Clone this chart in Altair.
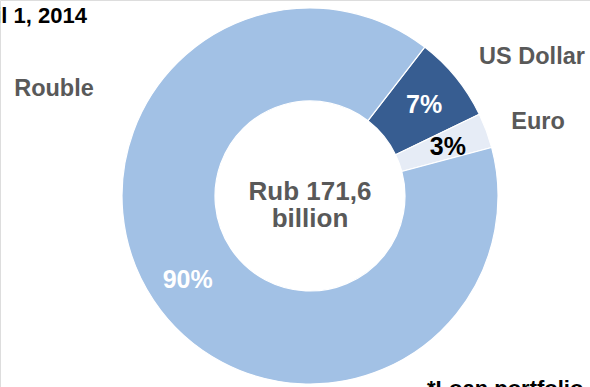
import math
import altair as alt
import pandas as pd

currencies = ["US Dollar", "Euro", "Rouble"]
shares = [7.4, 3.0, 89.6]
pct_labels = ["7%", "3%", "90%"]
order = [0, 1, 2]

df = pd.DataFrame({"currency": currencies, "share": shares, "label": pct_labels, "order": order})

CX, CY = 310, 196
START = math.radians(37.6)
theta_scale = alt.Scale(range=[START, START + 2 * math.pi])
fill_scale = alt.Scale(domain=currencies, range=["#375D91", "#E6ECF6", "#A2C1E5"])
text_scale = alt.Scale(domain=currencies, range=["#FFFFFF", "#000000", "#FFFFFF"])

base = alt.Chart(df)

arcs = base.mark_arc(outerRadius=188, innerRadius=95, stroke="white", strokeWidth=1.2).encode(
    theta=alt.Theta("share:Q", stack=True, scale=theta_scale),
    color=alt.Color("currency:N", scale=fill_scale, legend=None),
    order=alt.Order("order:Q"),
    x=alt.value(CX),
    y=alt.value(CY),
)

pcts = base.mark_text(radius=147, font="Liberation Sans", fontWeight="bold", fontSize=25).encode(
    theta=alt.Theta("share:Q", stack=True, scale=theta_scale),
    text="label:N",
    color=alt.Color("currency:N", scale=text_scale, legend=None),
    order=alt.Order("order:Q"),
    x=alt.value(CX),
    y=alt.value(CY + 2),
)

ring = alt.layer(arcs, pcts).resolve_scale(color="independent")

# category names placed beside the ring
name_x = [532, 538, 54]
name_y = [57, 122, 89]
names = alt.layer(*[
    alt.Chart(pd.DataFrame({"t": [c]})).mark_text(
        font="Liberation Sans", fontWeight="bold", fontSize=23.5, color="#595959", align="center", baseline="middle"
    ).encode(text="t:N", x=alt.value(x), y=alt.value(y))
    for c, x, y in zip(currencies, name_x, name_y)
])

center_lines = ["Rub 171,6", "billion"]
center = alt.Chart(pd.DataFrame({"t": [center_lines]})).mark_text(
    font="Liberation Sans", fontWeight="bold", fontSize=26, color="#595959", align="center",
    baseline="middle", lineHeight=27
).encode(text="t", x=alt.value(CX), y=alt.value(192))

date_text = ["As of April 1, 2014"]
date = alt.Chart(pd.DataFrame({"t": date_text})).mark_text(
    font="Liberation Sans", fontWeight="bold", fontSize=22, color="#000000", align="right", baseline="middle"
).encode(text="t:N", x=alt.value(87), y=alt.value(16))

note_text = ["*Loan portfolio"]
note = alt.Chart(pd.DataFrame({"t": note_text})).mark_text(
    font="Liberation Sans", fontWeight="bold", fontSize=22, color="#000000", align="left", baseline="alphabetic"
).encode(text="t:N", x=alt.value(427), y=alt.value(396))

chart = alt.layer(ring, names, center, date, note).properties(
    width=590, height=387, autosize="none", padding=0
).configure_view(stroke=None).configure(background="white")

chart.save("out.html", embed_options={"renderer": "svg", "actions": False})
